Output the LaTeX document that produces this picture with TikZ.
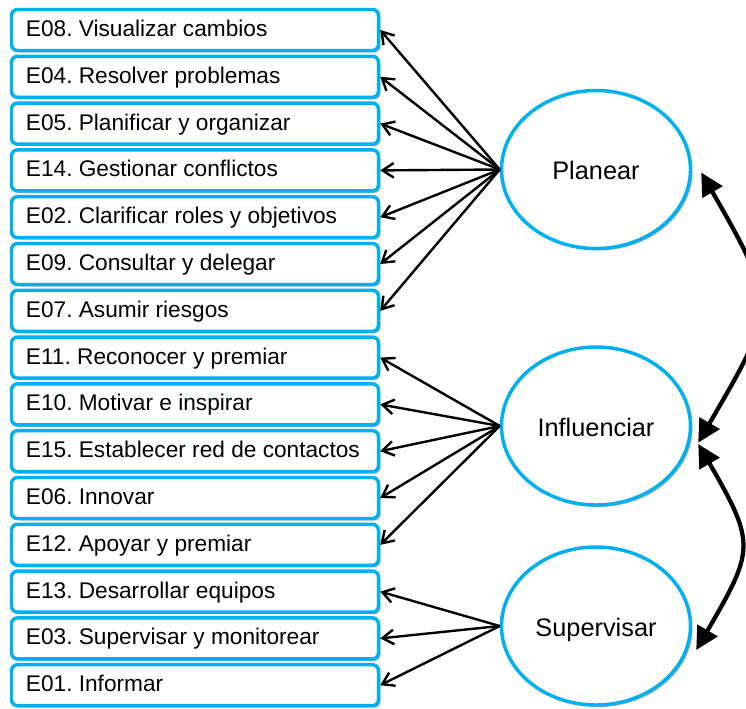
\documentclass[tikz,border=0pt]{standalone}
\usepackage{fontspec}
\setmainfont{Liberation Sans}
\usetikzlibrary{arrows.meta,shapes.geometric,shadows}
\definecolor{skyline}{HTML}{00B0F0}
\newcommand\itemlabel[1]{\makebox[253.6pt][l]{#1}}

\begin{document}
\frenchspacing
\begin{tikzpicture}[x=0.75pt,y=-0.75pt,
  softshadow/.style={drop shadow={shadow xshift=1.5pt,shadow yshift=-1.5pt,opacity=0.3,fill=black}},
  itembox/.style={draw=skyline,line width=2.6pt,fill=white,rounded corners=4.5pt,
    minimum width=275.25pt,minimum height=30.75pt,
    inner xsep=10.8pt,inner ysep=0pt,text height=12pt,text depth=2.2pt,
    font=\fontsize{17}{18}\selectfont,softshadow},
  factor/.style={ellipse,draw=skyline,line width=2.6pt,fill=white,
    minimum width=141.75pt,minimum height=118.5pt,inner sep=0pt,
    text height=15.5pt,text depth=0pt,font=\fontsize{19}{22}\selectfont,softshadow},
  load/.style={line width=1.8pt,-{Straight Barb[length=8.5pt,width=11pt]}},
  link/.style={line width=3.2pt,{Triangle[length=17pt,width=17pt]}-{Triangle[length=17pt,width=17pt]}}
]
\useasboundingbox (0,0) rectangle (746,708);

% indicator boxes
\foreach \t [count=\i] in {
  E08. Visualizar cambios,
  E04. Resolver problemas,
  E05. Planificar y organizar,
  E14. Gestionar conflictos,
  E02. Clarificar roles y objetivos,
  E09. Consultar y delegar,
  E07. Asumir riesgos,
  E11. Reconocer y premiar,
  E10. Motivar e inspirar,
  E15. Establecer red de contactos,
  E06. Innovar,
  E12. Apoyar y premiar,
  E13. Desarrollar equipos,
  E03. Supervisar y monitorear,
  E01. Informar}
  \node[itembox] (b\i) at (195,{30+46.8*(\i-1)}) {\itemlabel{\t}};

% latent factors
\node[factor] (P) at (596,169.5) {Planear};
\node[factor] (I) at (596,426) {Influenciar};
\node[factor] (S) at (596,626) {Supervisar};

% loadings
\foreach \i in {1,...,7}   \draw[load] (P.west) -- (b\i.east);
\foreach \i in {8,...,12}  \draw[load] (I.west) -- (b\i.east);
\foreach \i in {13,...,15} \draw[load] (S.west) -- (b\i.east);

% correlations between factors
\coordinate (pr) at ([xshift=6.75pt,yshift=-2.25pt]P.east);
\coordinate (ir1) at ([xshift=4.5pt,yshift=-12.5pt]I.east);
\coordinate (ir2) at ([xshift=4.5pt,yshift=-13.5pt]I.east);
\coordinate (sr) at ([xshift=3pt,yshift=-18pt]S.east);
\draw[link] (pr) .. controls +(77,134) and +(78,-134) .. (ir1);
\draw[link] (ir2) .. controls +(58,100) and +(58,-100) .. (sr);
\end{tikzpicture}
\end{document}
